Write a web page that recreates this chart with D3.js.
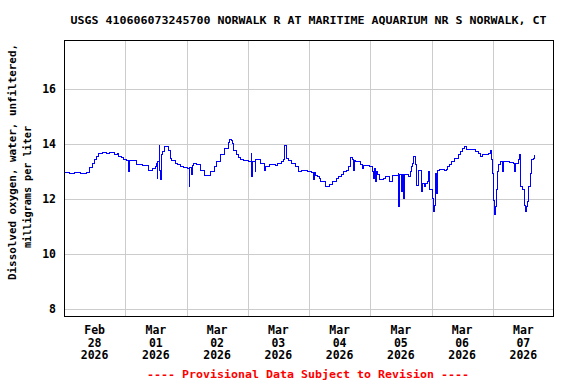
<!DOCTYPE html>
<html>
<head>
<meta charset="utf-8">
<script src="https://cdn.jsdelivr.net/npm/d3@7"></script>
<style>
  body { margin: 0; background: #fff; }
  text { font-family: "DejaVu Sans Mono", "Liberation Mono", monospace; font-weight: bold; }
</style>
</head>
<body>
<script>
// hours since Feb 28 2026 00:00, and dissolved oxygen (mg/L)
var hours = [0, 2.35, 4.3, 6.3, 9.0, 9.8, 11.0, 12.1, 12.9, 13.7, 14.9, 16.5, 18.0, 19.6, 20.8, 21.5, 22.7, 23.5, 24.3, 25.3, 25.5, 27.8, 28.6, 30.6, 32.1,
  33.3, 34.5, 35.7, 36.4, 36.6, 36.8, 37.3, 37.5, 37.9, 38.1, 38.4, 39.2, 40.4, 41.1, 41.8, 42.3, 43.5, 44.3, 45.7, 47.0, 48.2, 49.0, 49.2, 49.8, 50.2,
  50.9, 52.1, 53.6, 54.9, 56.0, 57.5, 58.8, 59.9, 61.4, 62.7, 64.3, 65.0, 65.8, 66.2, 66.6, 67.4, 68.2, 69.0, 70.5, 72.1, 73.3, 73.4, 73.7, 74.9, 75.2,
  76.8, 78.4, 78.7, 79.1, 80.7, 82.7, 83.8, 85.4, 86.2, 86.3, 87.0, 87.8, 89.3, 90.9, 91.7, 93.2, 94.8, 95.6, 96.8, 97.6, 98.0, 98.7, 99.5, 100.3, 100.7,
  101.5, 102.3, 103.4, 104.2, 105.4, 106.6, 107.7, 108.9, 109.7, 110.5, 111.3, 112.1, 112.4, 113.2, 113.6, 113.8, 114.4, 115.2, 116.0, 116.8, 117.5,
  119.1, 119.9, 120.7, 121.1, 121.5, 121.9, 122.3, 123.0, 123.8, 125.0, 126.1, 127.7, 128.9, 130.1, 130.9, 131.0, 131.3, 132.4, 132.6, 133.2, 133.6,
  134.8, 135.6, 136.3, 136.7, 137.1, 137.9, 138.3, 139.1, 139.9, 140.3, 141.1, 141.8, 142.6, 143.0, 143.4, 144.2, 144.6, 145.0, 145.7, 146.1, 146.5,
  147.3, 148.9, 149.7, 150.4, 151.2, 152.0, 153.2, 154.4, 155.5, 156.3, 157.1, 157.9, 159.9, 161.1, 162.3, 163.1, 163.9, 165.0, 166.2, 167.0, 167.4,
  167.8, 168.2, 168.6, 169.0, 169.3, 169.7, 170.1, 170.9, 172.0, 172.2, 173.2, 174.7, 176.3, 176.7, 177.1, 177.9, 178.3, 178.7, 179.0, 179.8, 180.6,
  181.0, 181.4, 181.8, 182.2, 182.6, 183.0, 183.8, 184.5];
var oxygen = [12.95, 12.93, 12.96, 12.94, 12.95, 13.13, 13.3, 13.42, 13.53, 13.64, 13.7, 13.66, 13.68, 13.62, 13.66, 13.55, 13.5, 13.45, 13.4, 13.0, 13.4, 13.4, 13.24, 13.22, 13.2,
  13.05, 13.1, 13.17, 13.3, 12.76, 13.35, 13.93, 13.05, 12.7, 13.6, 13.72, 13.9, 13.9, 13.75, 13.48, 13.4, 13.3, 13.24, 13.18, 13.13, 13.1, 12.45, 13.15, 12.9, 13.2,
  13.3, 13.24, 13.05, 12.87, 12.87, 13.0, 13.18, 13.36, 13.6, 13.84, 14.05, 14.15, 14.12, 14.0, 13.78, 13.6, 13.52, 13.42, 13.4, 13.36, 13.64, 12.81, 13.38, 13.0, 13.45,
  13.3, 13.3, 13.05, 13.18, 13.24, 13.22, 13.3, 13.36, 13.45, 13.93, 13.48, 13.4, 13.3, 13.18, 13.0, 13.05, 13.02, 13.0, 12.98, 12.69, 12.98, 12.87, 12.81, 12.75, 12.64,
  12.64, 12.45, 12.45, 12.53, 12.64, 12.73, 12.81, 12.9, 13.0, 13.05, 13.18, 13.3, 13.5, 13.42, 13.05, 13.4, 13.36, 13.36, 13.24, 13.12, 13.21,
  13.21, 13.18, 13.0, 12.75, 13.1, 12.65, 13.0, 12.9, 12.69, 12.75, 12.81, 12.63, 12.84, 12.87, 12.93, 11.72, 12.9, 12.27, 12.9, 12.0, 12.9,
  12.81, 13.0, 13.18, 13.3, 13.54, 13.24, 12.5, 13.05, 12.27, 12.57, 12.45, 12.57, 12.63, 13.0, 12.33, 12.0, 11.54, 11.78, 12.93, 12.2, 13.05,
  13.08, 13.03, 13.08, 13.18, 13.24, 13.36, 13.48, 13.6, 13.72, 13.84, 13.9, 13.8, 13.8, 13.72, 13.66, 13.56, 13.6, 13.6, 13.64, 13.78, 13.42,
  12.93, 11.94, 11.42, 11.72, 12.33, 13.0, 13.24, 13.36, 13.0, 13.36, 13.36, 13.33, 13.3, 13.0, 13.3, 13.42, 13.6, 12.93, 12.45, 12.33, 11.78,
  11.54, 11.72, 11.9, 12.45, 12.93, 13.42, 13.48, 13.6];
var yTicks = [8, 10, 12, 14, 16];
var titleText = "USGS 410606073245700 NORWALK R AT MARITIME AQUARIUM NR S NORWALK, CT";
var yLabel1 = "Dissolved oxygen, water, unfiltered,";
var yLabel2 = "milligrams per liter";
var footText = "---- Provisional Data Subject to Revision ----";

var W = 576, H = 384;
var margin = {top: 40, right: 22, bottom: 68, left: 64};
var t0 = new Date(2026, 1, 28);
var t1 = new Date(2026, 2, 8);

var svg = d3.select("body").append("svg")
    .attr("width", W)
    .attr("height", H);

var x = d3.scaleTime()
    .domain([t0, t1])
    .range([margin.left, W - margin.right]);

var y = d3.scaleLinear()
    .domain([7.745, 17.78])
    .range([H - margin.bottom, margin.top]);

var data = hours.map(function(h, i) {
  return {t: new Date(t0.getTime() + h * 3600e3), v: oxygen[i]};
});

var days = d3.timeDay.range(t0, t1);

// grid
svg.append("g").selectAll("line")
    .data(yTicks)
    .enter().append("line")
    .attr("x1", margin.left).attr("x2", W - margin.right)
    .attr("y1", function(d) { return Math.round(y(d)) + 0.5; })
    .attr("y2", function(d) { return Math.round(y(d)) + 0.5; })
    .attr("stroke", "#cccccc");

svg.append("g").selectAll("line")
    .data(days.slice(1))
    .enter().append("line")
    .attr("x1", function(d) { return Math.round(x(d)) + 0.5; })
    .attr("x2", function(d) { return Math.round(x(d)) + 0.5; })
    .attr("y1", margin.top).attr("y2", H - margin.bottom)
    .attr("stroke", "#cccccc");

// data line
var line = d3.line()
    .x(function(d) { return x(d.t); })
    .y(function(d) { return y(d.v); })
    .curve(d3.curveStepAfter);

svg.append("path")
    .datum(data)
    .attr("d", line)
    .attr("fill", "none")
    .attr("stroke", "#0000ff")
    .attr("stroke-width", 1)
    .attr("shape-rendering", "crispEdges");

// frame
svg.append("rect")
    .attr("x", margin.left + 0.5).attr("y", margin.top + 0.5)
    .attr("width", W - margin.left - margin.right - 1)
    .attr("height", H - margin.top - margin.bottom)
    .attr("fill", "none")
    .attr("stroke", "#000");

// y tick labels
svg.append("g").selectAll("text")
    .data(yTicks)
    .enter().append("text")
    .attr("x", 56)
    .attr("y", function(d) { return y(d) + 4; })
    .attr("text-anchor", "end")
    .attr("font-size", 11.5)
    .text(function(d) { return d; });

// x tick labels at noon of each day
var fmtMon = d3.timeFormat("%b"), fmtDay = d3.timeFormat("%d"), fmtYr = d3.timeFormat("%Y");
var xl = svg.append("g").selectAll("text")
    .data(days)
    .enter().append("text")
    .attr("text-anchor", "middle")
    .attr("font-size", 11.5);
[fmtMon, fmtDay, fmtYr].forEach(function(f, k) {
  xl.append("tspan")
    .attr("x", function(d) { return x(d3.timeHour.offset(d, 12)); })
    .attr("y", 334 + k * 12.5)
    .text(f);
});

// title
svg.append("text")
    .attr("x", 308.5).attr("y", 24)
    .attr("text-anchor", "middle")
    .attr("font-size", 11)
    .attr("textLength", 476)
    .attr("lengthAdjust", "spacingAndGlyphs")
    .text(titleText);

// y axis title
svg.append("text")
    .attr("transform", "translate(16,162) rotate(-90)")
    .attr("text-anchor", "middle")
    .attr("font-size", 11)
    .attr("textLength", 236)
    .attr("lengthAdjust", "spacingAndGlyphs")
    .text(yLabel1);
svg.append("text")
    .attr("transform", "translate(31,187) rotate(-90)")
    .attr("text-anchor", "middle")
    .attr("font-size", 11)
    .attr("textLength", 122)
    .attr("lengthAdjust", "spacingAndGlyphs")
    .text(yLabel2);

// footer
svg.append("text")
    .attr("x", 308).attr("y", 378)
    .attr("text-anchor", "middle")
    .attr("font-size", 11)
    .attr("fill", "#ff0000")
    .attr("textLength", 322)
    .attr("lengthAdjust", "spacingAndGlyphs")
    .text(footText);
</script>
</body>
</html>
